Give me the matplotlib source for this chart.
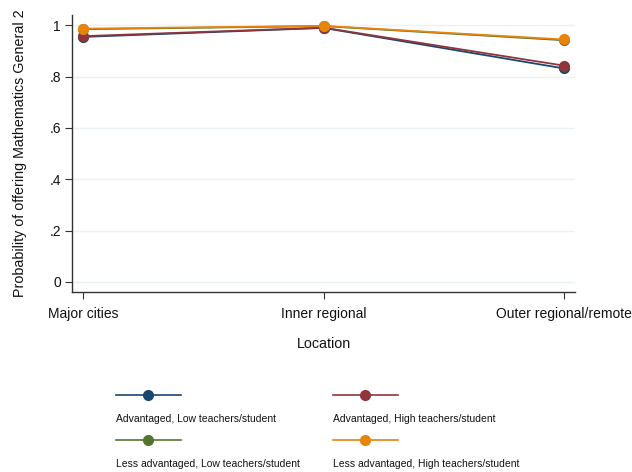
import matplotlib
matplotlib.use("Agg")
import matplotlib.pyplot as plt
from matplotlib.lines import Line2D

plt.rcParams['font.family'] = ['Liberation Sans', 'DejaVu Sans']

locations = ["Major cities", "Inner regional", "Outer regional/remote"]
series_names = [
    "Advantaged, Low teachers/student",
    "Advantaged, High teachers/student",
    "Less advantaged, Low teachers/student",
    "Less advantaged, High teachers/student",
]
adv_low = [0.955, 0.990, 0.832]
adv_high = [0.958, 0.991, 0.843]
less_low = [0.985, 0.997, 0.942]
less_high = [0.987, 0.998, 0.945]
y_ticks = [0, 0.2, 0.4, 0.6, 0.8, 1.0]
y_tick_labels = ["0", ".2", ".4", ".6", ".8", "1"]

colors = ["#1a476f", "#90353b", "#55752f", "#e8830b"]
series = [adv_low, adv_high, less_low, less_high]

fig = plt.figure(figsize=(6.32, 4.72), dpi=100)
ax = fig.add_axes([0.114, 0.381, 0.796, 0.587])

x = list(range(len(locations)))
for vals, c in zip(series, colors):
    ax.plot(x, vals, color=c, lw=1.3, marker="o", markersize=7, zorder=3)

ax.set_xlim(-0.046, 2.046)
ax.set_ylim(-0.04, 1.04)
ax.set_yticks(y_ticks)
ax.set_yticklabels(y_tick_labels)
ax.set_xticks(x)
ax.set_xticklabels(locations)
ax.yaxis.grid(True, color="#eaf2f3", lw=1.0)
ax.set_axisbelow(True)
for s in ["top", "right"]:
    ax.spines[s].set_visible(False)
for s in ["left", "bottom"]:
    ax.spines[s].set_color("#333333")
    ax.spines[s].set_linewidth(1.0)
ax.tick_params(axis="both", direction="out", length=5, color="#333333",
               labelsize=10, labelcolor="#111111", pad=3)
ax.tick_params(axis="x", pad=6)
ax.set_ylabel("Probability of offering Mathematics General 2", fontsize=10.3,
              color="#111111", labelpad=16)
ax.set_xlabel("Location", fontsize=10.3, color="#111111", labelpad=11)

# Legend: two columns, key line above each label
W, H = 632, 472
col_x = [116, 333]
row_y = [395, 440]
for i, (name, c) in enumerate(zip(series_names, colors)):
    cx = col_x[i % 2]
    ry = row_y[i // 2]
    fig.add_artist(Line2D([cx / W, (cx + 65) / W], [1 - ry / H, 1 - ry / H],
                          color=c, lw=1.2, transform=fig.transFigure))
    fig.add_artist(Line2D([(cx + 32) / W], [1 - ry / H], color=c, marker="o",
                          markersize=7, lw=0, transform=fig.transFigure))
    fig.text(cx / W, 1 - (ry + 24) / H, name, fontsize=7.5, color="#111111",
             ha="left", va="center")

fig.savefig("out.png", dpi=100, facecolor="white")
